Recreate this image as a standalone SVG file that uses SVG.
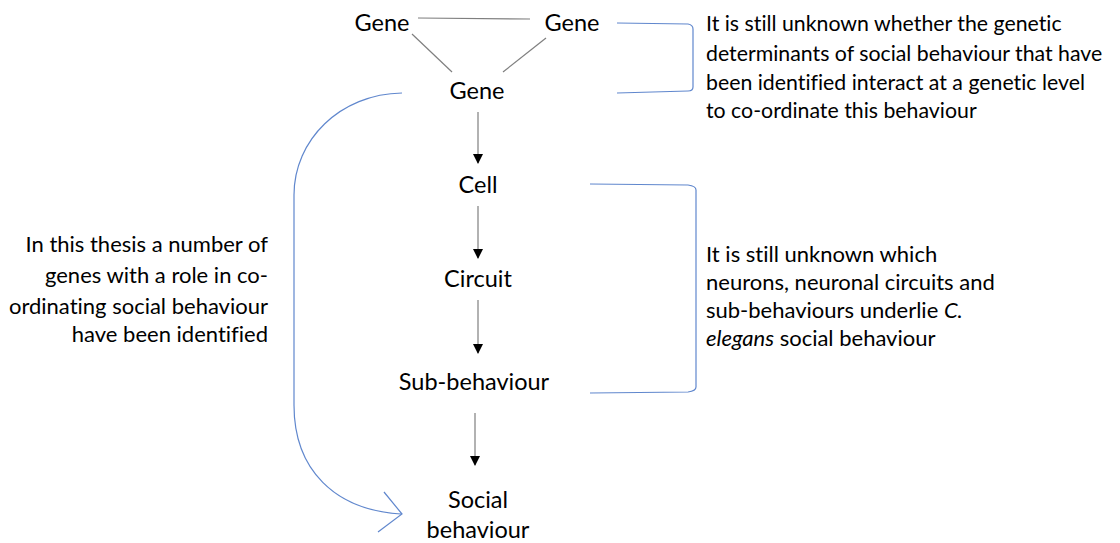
<svg xmlns="http://www.w3.org/2000/svg" width="1120" height="543" viewBox="0 0 1120 543">
<defs>
<style>
text{font-variant-ligatures:none}
.n{font-family:Lato,"Open Sans","Liberation Sans",sans-serif;font-size:23.5px;fill:#000;text-anchor:middle}
.t{font-family:Lato,"Open Sans","Liberation Sans",sans-serif;font-size:22px;fill:#000}
.s{font-size:21.3px}
.r{text-anchor:end}
.g{stroke:#7f7f7f;stroke-width:1.2;fill:none}
.b{stroke:#4472c4;stroke-width:1.2;fill:none;opacity:0.85}
</style>
<marker id="ah" viewBox="0 0 10 10" refX="9" refY="5" markerWidth="10" markerHeight="10" markerUnits="userSpaceOnUse" orient="auto">
<path d="M0,0 L10,5 L0,10 z" fill="#000"/>
</marker>
</defs>
<rect width="1120" height="543" fill="#fff"/>
<g id="connectors">
<line class="g" x1="418" y1="18" x2="530" y2="19"/>
<line class="g" x1="412" y1="34" x2="452" y2="72"/>
<line class="g" x1="546" y1="38" x2="503" y2="72"/>
<line class="g" x1="478" y1="112" x2="478" y2="163" marker-end="url(#ah)"/>
<line class="g" x1="478" y1="206" x2="478" y2="258" marker-end="url(#ah)"/>
<line class="g" x1="478" y1="300" x2="478" y2="353" marker-end="url(#ah)"/>
<line class="g" x1="475" y1="413" x2="475" y2="465" marker-end="url(#ah)"/>
<path class="b" d="M617,23 L688,24 Q693,25 693,29 L693,87 Q693,91 688,91 L617,93"/>
<path class="b" d="M590,184 L688,185 Q696,186 696,190 L696,387 Q696,391 688,392 L590,393"/>
<path class="b" d="M402,93 C340,94 294,140 294,195 L294,405 C294,470 335,510 401,514"/>
<path class="b" d="M384,492 L402,514 L378,532"/>
</g>
<g id="gene-left"><text class="n" x="382" y="31">Gene</text></g>
<g id="gene-right"><text class="n" x="572" y="31">Gene</text></g>
<g id="gene-center"><text class="n" x="477" y="99">Gene</text></g>
<g id="cell"><text class="n" x="478" y="193">Cell</text></g>
<g id="circuit"><text class="n" x="478" y="287">Circuit</text></g>
<g id="sub-behaviour"><text class="n" x="474" y="390">Sub-behaviour</text></g>
<g id="social-behaviour"><text class="n" x="478" y="508">Social</text><text class="n" x="478" y="538">behaviour</text></g>
<g id="note-genetic">
<text class="t s" x="706" y="31">It is still unknown whether the genetic</text>
<text class="t s" x="706" y="61">determinants of social behaviour that have</text>
<text class="t s" x="706" y="90">been identified interact at a genetic level</text>
<text class="t s" x="706" y="118">to co-ordinate this behaviour</text>
</g>
<g id="note-neurons">
<text class="t" x="706" y="262">It is still unknown which</text>
<text class="t" x="706" y="290">neurons, neuronal circuits and</text>
<text class="t" x="706" y="318">sub-behaviours underlie <tspan font-style="italic">C.</tspan></text>
<text class="t" x="706" y="346"><tspan font-style="italic">elegans</tspan> social behaviour</text>
</g>
<g id="note-thesis">
<text class="t r" x="268" y="252">In this thesis a number of</text>
<text class="t r" x="268" y="283">genes with a role in co-</text>
<text class="t r" x="268" y="314">ordinating social behaviour</text>
<text class="t r" x="268" y="342">have been identified</text>
</g>
</svg>
